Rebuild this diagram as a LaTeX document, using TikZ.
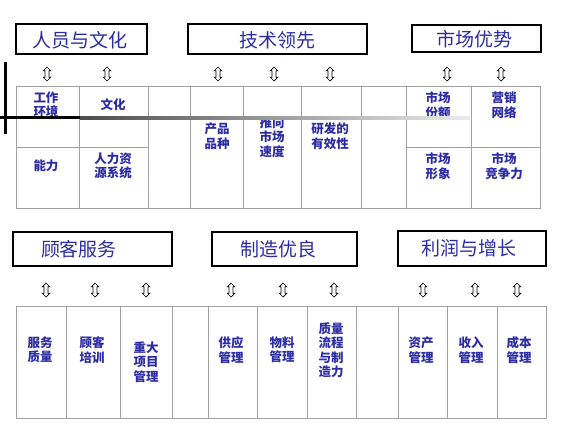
\documentclass[tikz,border=0pt]{standalone}
\usepackage{fontspec}
\newfontfamily\cjk{Noto Sans CJK SC}
\usetikzlibrary{shapes.arrows}
\definecolor{txtblue}{RGB}{44,44,165}
\definecolor{gridgray}{RGB}{160,160,160}
\tikzset{
  titlebox/.style={draw=black, line width=1.2pt},
  titletext/.style={text=txtblue, font=\cjk\fontsize{19}{22}\selectfont, inner sep=0pt},
  celltext/.style={text=txtblue, font=\cjk\bfseries\fontsize{12.5}{14.5}\selectfont, align=center, inner sep=0pt},
  gridline/.style={draw=gridgray, line width=1pt},
  updown/.style={double arrow, rotate=90, draw=black, fill=white, line width=0.7pt,
     minimum height=14pt, inner xsep=0pt, inner ysep=1.6pt, minimum width=0pt,
     double arrow head extend=1.8pt, double arrow head indent=0pt}
}
\begin{document}
\begin{tikzpicture}[x=1pt,y=-1pt]
\useasboundingbox (0,0) rectangle (568,426);
\fill[white] (0,0) rectangle (568,426);

% ---------- top titles ----------
\draw[titlebox] (16,24) rectangle (147,54);
\node[titletext] (t1) at (80,40) {人员与文化};
\draw[titlebox] (188,24) rectangle (367,54);
\node[titletext] (t2) at (277,40) {技术领先};
\draw[titlebox] (412,25) rectangle (541,52);
\node[titletext] (t3) at (474,39) {市场优势};

% ---------- top arrows ----------
\foreach \x/\n in {47/a1,107/a2,218/a3,274/a4,330/a5,447/a6,501/a7}
  \node[updown] (\n) at (\x,74) {};

% ---------- top grid ----------
\draw[gridline] (16,86) rectangle (540,208);
\foreach \x in {79,148,190,243,301,361,406,471}
  \draw[gridline] (\x,86) -- (\x,208);
\draw[gridline] (16,147) -- (148,147);
\draw[gridline] (406,147) -- (540,147);

\node[celltext] (c1) at (46,105) {工作\\环境};
\node[celltext] (c2) at (113,105) {文化};
\node[celltext] (c3) at (46,166) {能力};
\node[celltext] (c4) at (113,166) {人力资\\源系统};
\node[celltext] (c5) at (217,136) {产品\\品种};
\node[celltext] (c6) at (272,137) {推向\\市场\\速度};
\node[celltext] (c7) at (330,136) {研发的\\有效性};
\node[celltext] (c8) at (438,105) {市场\\份额};
\node[celltext] (c9) at (504,105) {营销\\网络};
\node[celltext] (c10) at (438,166) {市场\\形象};
\node[celltext] (c11) at (504,166) {市场\\竞争力};

% ---------- black cross lines ----------
\fill[black] (0,116.3) rectangle (80,119);
\shade[left color=gray!60!black, right color=gray!15] (80,116.3) rectangle (470,119);
\fill[black] (4,62) rectangle (6.8,134);

% ---------- bottom titles ----------
\draw[titlebox] (13,232) rectangle (172,266);
\node[titletext] (b1) at (79,249) {顾客服务};
\draw[titlebox] (212,232) rectangle (357,266);
\node[titletext] (b2) at (278,249) {制造优良};
\draw[titlebox] (398,231) rectangle (546,266);
\node[titletext] (b3) at (469,248) {利润与增长};

% ---------- bottom arrows ----------
\foreach \x/\n in {46/d1,95/d2,146/d3,231/d4,283/d5,334/d6,423/d7,475/d8,517/d9}
  \node[updown] (\n) at (\x,290) {};

% ---------- bottom grid ----------
\draw[gridline] (16,306) rectangle (546,418);
\foreach \x in {66,120,172,208,257,307,356,398,447,497}
  \draw[gridline] (\x,306) -- (\x,418);

\node[celltext] (e1) at (40,350) {服务\\质量};
\node[celltext] (e2) at (92,350) {顾客\\培训};
\node[celltext] (e3) at (146,362) {重大\\项目\\管理};
\node[celltext] (e4) at (231,350) {供应\\管理};
\node[celltext] (e5) at (282,350) {物料\\管理};
\node[celltext] (e6) at (331,350) {质量\\流程\\与制\\造力};
\node[celltext] (e7) at (421,350) {资产\\管理};
\node[celltext] (e8) at (471,350) {收入\\管理};
\node[celltext] (e9) at (519,350) {成本\\管理};
\end{tikzpicture}
\end{document}
